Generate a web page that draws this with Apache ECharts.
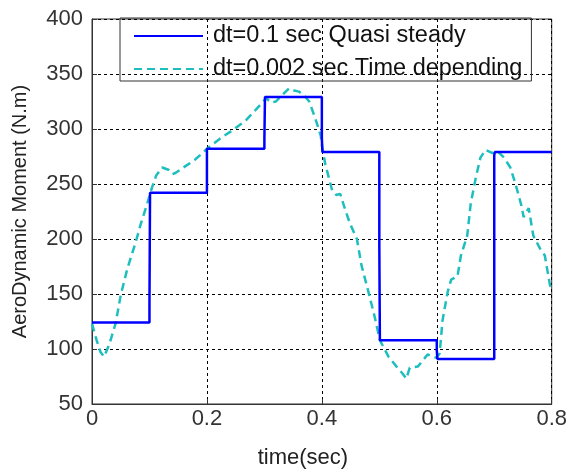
<!DOCTYPE html>
<html>
<head>
<meta charset="utf-8">
<script src="https://cdn.jsdelivr.net/npm/echarts@6/dist/echarts.min.js"></script>
<style>
html,body{margin:0;padding:0;background:#fff;}
#chart{width:570px;height:474px;}
</style>
</head>
<body>
<div id="chart"></div>
<script>
// Quasi steady (dt=0.1 sec) step series
var quasiTime  = [0, 0.1, 0.1, 0.101, 0.2, 0.2, 0.3, 0.3, 0.301, 0.4, 0.4, 0.401, 0.5, 0.5, 0.501, 0.6, 0.6, 0.601, 0.7, 0.7, 0.701, 0.8];
var quasiValue = [124, 124, 141, 242, 242, 282, 282, 291, 329, 329, 291, 279, 279, 194, 108, 108, 99, 91, 91, 276, 279, 279];

// Time depending (dt=0.002 sec) series
var timeDepT = [0, 0.008, 0.015, 0.021, 0.03, 0.041, 0.05, 0.0615, 0.076, 0.0845, 0.096, 0.1045, 0.112, 0.122, 0.133, 0.14, 0.145, 0.162, 0.179, 0.19, 0.2,
  0.222, 0.245, 0.268, 0.286, 0.303, 0.312, 0.32, 0.333, 0.343, 0.352, 0.36, 0.37, 0.378, 0.389, 0.398, 0.401, 0.406, 0.418, 0.425, 0.432, 0.441, 0.449,
  0.461, 0.469, 0.481, 0.492, 0.501, 0.516, 0.53, 0.54, 0.547, 0.553, 0.567, 0.584, 0.599, 0.605, 0.61, 0.619, 0.625, 0.636, 0.642, 0.653, 0.659, 0.668,
  0.676, 0.685, 0.697, 0.705, 0.717, 0.728, 0.737, 0.748, 0.751, 0.76, 0.768, 0.78, 0.788, 0.797, 0.8];
var timeDepV = [123, 108, 97, 93, 104, 123, 149, 173, 197, 213, 232, 247, 258, 265, 263, 259, 260, 266, 272, 277, 282,
  291, 299, 308, 318, 328, 324, 325, 332, 337, 335, 334, 330, 325, 309, 294, 282, 268, 244, 240, 241, 226, 214,
  200, 176, 152, 129, 108, 93, 84, 78, 73, 83, 84, 95, 92, 96, 126, 152, 163, 166, 185, 203, 232, 256,
  274, 281, 278, 280, 274, 265, 250, 229, 220, 228, 203, 191, 185, 158, 155];

var seriesNames = ['dt=0.1 sec Quasi steady', 'dt=0.002 sec Time depending'];
var xTicks = [0, 0.2, 0.4, 0.6, 0.8];
var yTicks = [50, 100, 150, 200, 250, 300, 350, 400];

function zip(a, b) { return a.map(function (v, i) { return [v, b[i]]; }); }

var chart = echarts.init(document.getElementById('chart'), null, {renderer: 'canvas'});
var font = '"Liberation Sans", Arial, sans-serif';
var gridLine = {show: true, lineStyle: {color: '#000', type: [3, 3], width: 1}};

chart.setOption({
  animation: false,
  backgroundColor: '#fff',
  grid: {left: 92, right: 15, top: 19, bottom: 62, show: true, borderColor: '#333', borderWidth: 1, backgroundColor: 'transparent'},
  legend: {
    orient: 'vertical',
    left: 120, top: 18,
    data: seriesNames,
    itemWidth: 69, itemHeight: 14, itemGap: 9,
    padding: [6, 9, 0, 13],
    borderColor: '#333', borderWidth: 1,
    itemStyle: {opacity: 0},
    textStyle: {fontFamily: font, fontSize: 23.5, color: '#111', lineHeight: 22, padding: [0, 0, 0, 5]}
  },
  xAxis: {
    type: 'value', min: xTicks[0], max: xTicks[xTicks.length - 1], interval: 0.2,
    name: 'time(sec)', nameLocation: 'middle', nameGap: 43,
    nameTextStyle: {fontFamily: font, fontSize: 22, color: '#222', padding: [0, 38, 0, 0]},
    axisLine: {show: true, lineStyle: {color: '#333', width: 1}},
    axisTick: {show: true, inside: true, length: 5, lineStyle: {color: '#333'}},
    axisLabel: {fontFamily: font, fontSize: 22, color: '#333', margin: 4},
    splitLine: gridLine
  },
  yAxis: {
    type: 'value', min: yTicks[0], max: yTicks[yTicks.length - 1], interval: 50,
    name: 'AeroDynamic Moment (N.m)', nameLocation: 'middle', nameGap: 62,
    nameTextStyle: {fontFamily: font, fontSize: 20, color: '#222'},
    axisLine: {show: true, lineStyle: {color: '#333', width: 1}},
    axisTick: {show: true, inside: true, length: 5, lineStyle: {color: '#333'}},
    axisLabel: {fontFamily: font, fontSize: 22, color: '#333', margin: 9},
    splitLine: gridLine
  },
  series: [
    {
      name: seriesNames[0], type: 'line', data: zip(quasiTime, quasiValue),
      symbol: 'none', color: '#0000FF',
      lineStyle: {color: '#0000FF', width: 2.5}, z: 3
    },
    {
      name: seriesNames[1], type: 'line', data: zip(timeDepT, timeDepV),
      symbol: 'none', color: '#1EBEBE',
      lineStyle: {color: '#1EBEBE', width: 2.5, type: [8, 5]}, z: 2
    }
  ]
});
</script>
</body>
</html>
